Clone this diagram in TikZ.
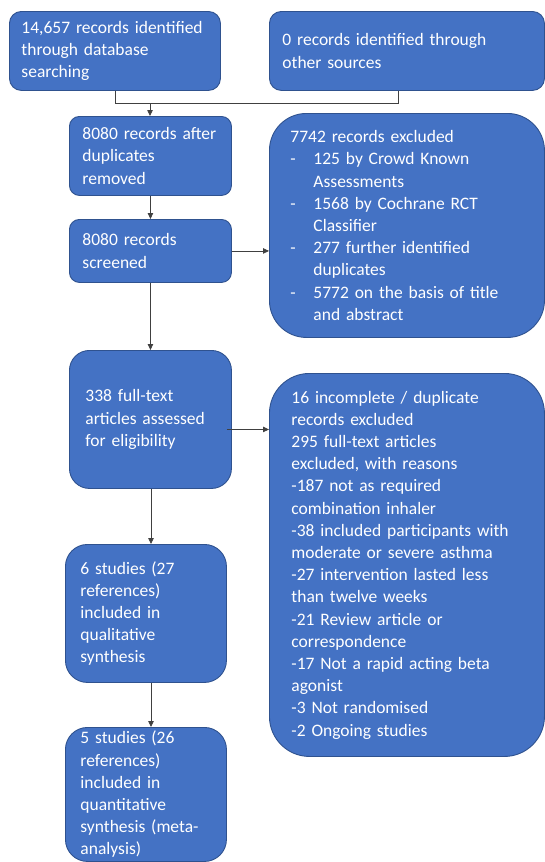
\documentclass[tikz,border=0pt]{standalone}
\usepackage{fontspec}
\setmainfont{Carlito}
\usetikzlibrary{arrows.meta,calc}
\definecolor{boxfill}{HTML}{4472C4}
\definecolor{boxline}{HTML}{2F528F}
\newcommand{\dashitem}{\makebox[23pt][l]{-}}
\newcommand{\hang}{\hspace*{23pt}}
\begin{document}
\begin{tikzpicture}[x=1pt,y=-1pt,
  flowbox/.style n args={3}{draw=boxline, fill=boxfill, text=white, line width=0.9pt,
    anchor=north west, align=left, inner ysep=0pt, inner xsep=#2,
    text width={#1-2*#2}, rounded corners=#3,
    font=\fontsize{17.5pt}{22.2pt}\selectfont},
  conn/.style={draw=black!75, line width=0.8pt},
  arr/.style={conn, -{Triangle[length=6pt,width=5.5pt]}}]
\useasboundingbox (0,0) rectangle (545,862);

\node[flowbox={211pt}{12pt}{12pt}, minimum height=79pt] (A) at (9,11)
  {14,657 records identified\\through database\\searching};
\node[flowbox={275pt}{13pt}{12pt}, minimum height=79pt] (B) at (269,11)
  {0 records identified through\\other sources};
\node[flowbox={162pt}{13pt}{10pt}, minimum height=79pt] (C) at (69,116)
  {8080 records after\\duplicates\\removed};
\node[flowbox={162pt}{13pt}{10pt}, minimum height=63pt] (D) at (69,219)
  {8080 records\\screened};
\node[flowbox={275pt}{21pt}{37pt}, minimum height=224pt] (E) at (269,113)
  {7742 records excluded\\
   \dashitem 125 by Crowd Known\\\hang Assessments\\
   \dashitem 1568 by Cochrane RCT\\\hang Classifier\\
   \dashitem 277 further identified\\\hang duplicates\\
   \dashitem 5772 on the basis of title\\\hang and abstract};
\node[flowbox={162pt}{16pt}{20pt}, minimum height=138pt] (F) at (69,350)
  {338 full-text\\articles assessed\\for eligibility};
\node[flowbox={275pt}{22pt}{40pt}, minimum height=383pt] (G) at (269,373)
  {16 incomplete / duplicate\\records excluded\\295 full-text articles\\excluded, with reasons\\
   -187 not as required\\combination inhaler\\
   -38 included participants with\\moderate or severe asthma\\
   -27 intervention lasted less\\than twelve weeks\\
   -21 Review article or\\correspondence\\
   -17 Not a rapid acting beta\\agonist\\
   -3 Not randomised\\
   -2 Ongoing studies};
\node[flowbox={161pt}{15pt}{22pt}, minimum height=138pt] (H) at (65,544)
  {6 studies (27\\references)\\included in\\qualitative\\synthesis};
\node[flowbox={161pt}{15pt}{22pt}, minimum height=134pt] (I) at (65,727)
  {5 studies (26\\references)\\included in\\quantitative\\synthesis (meta-\\analysis)};

\coordinate (jr) at (398,103);
\coordinate (jm) at (150,103);
\coordinate (lx) at (151,0);
\draw[conn] (A.south) |- (jr) -- (jr |- B.south);
\draw[arr] (jm) -- (jm |- C.north);
\draw[arr] (C.south) -- (D.north);
\draw[arr] (D.east) -- (D.east -| E.west);
\draw[arr] (D.south) -- (D.south |- F.north);
\draw[arr] ([xshift=-5pt,yshift=-10pt]F.east) -- ([yshift=-10pt]F.east -| G.west);
\draw[arr] (lx |- F.south) -- (lx |- H.north);
\draw[arr] (lx |- H.south) -- (lx |- I.north);
\end{tikzpicture}
\end{document}
